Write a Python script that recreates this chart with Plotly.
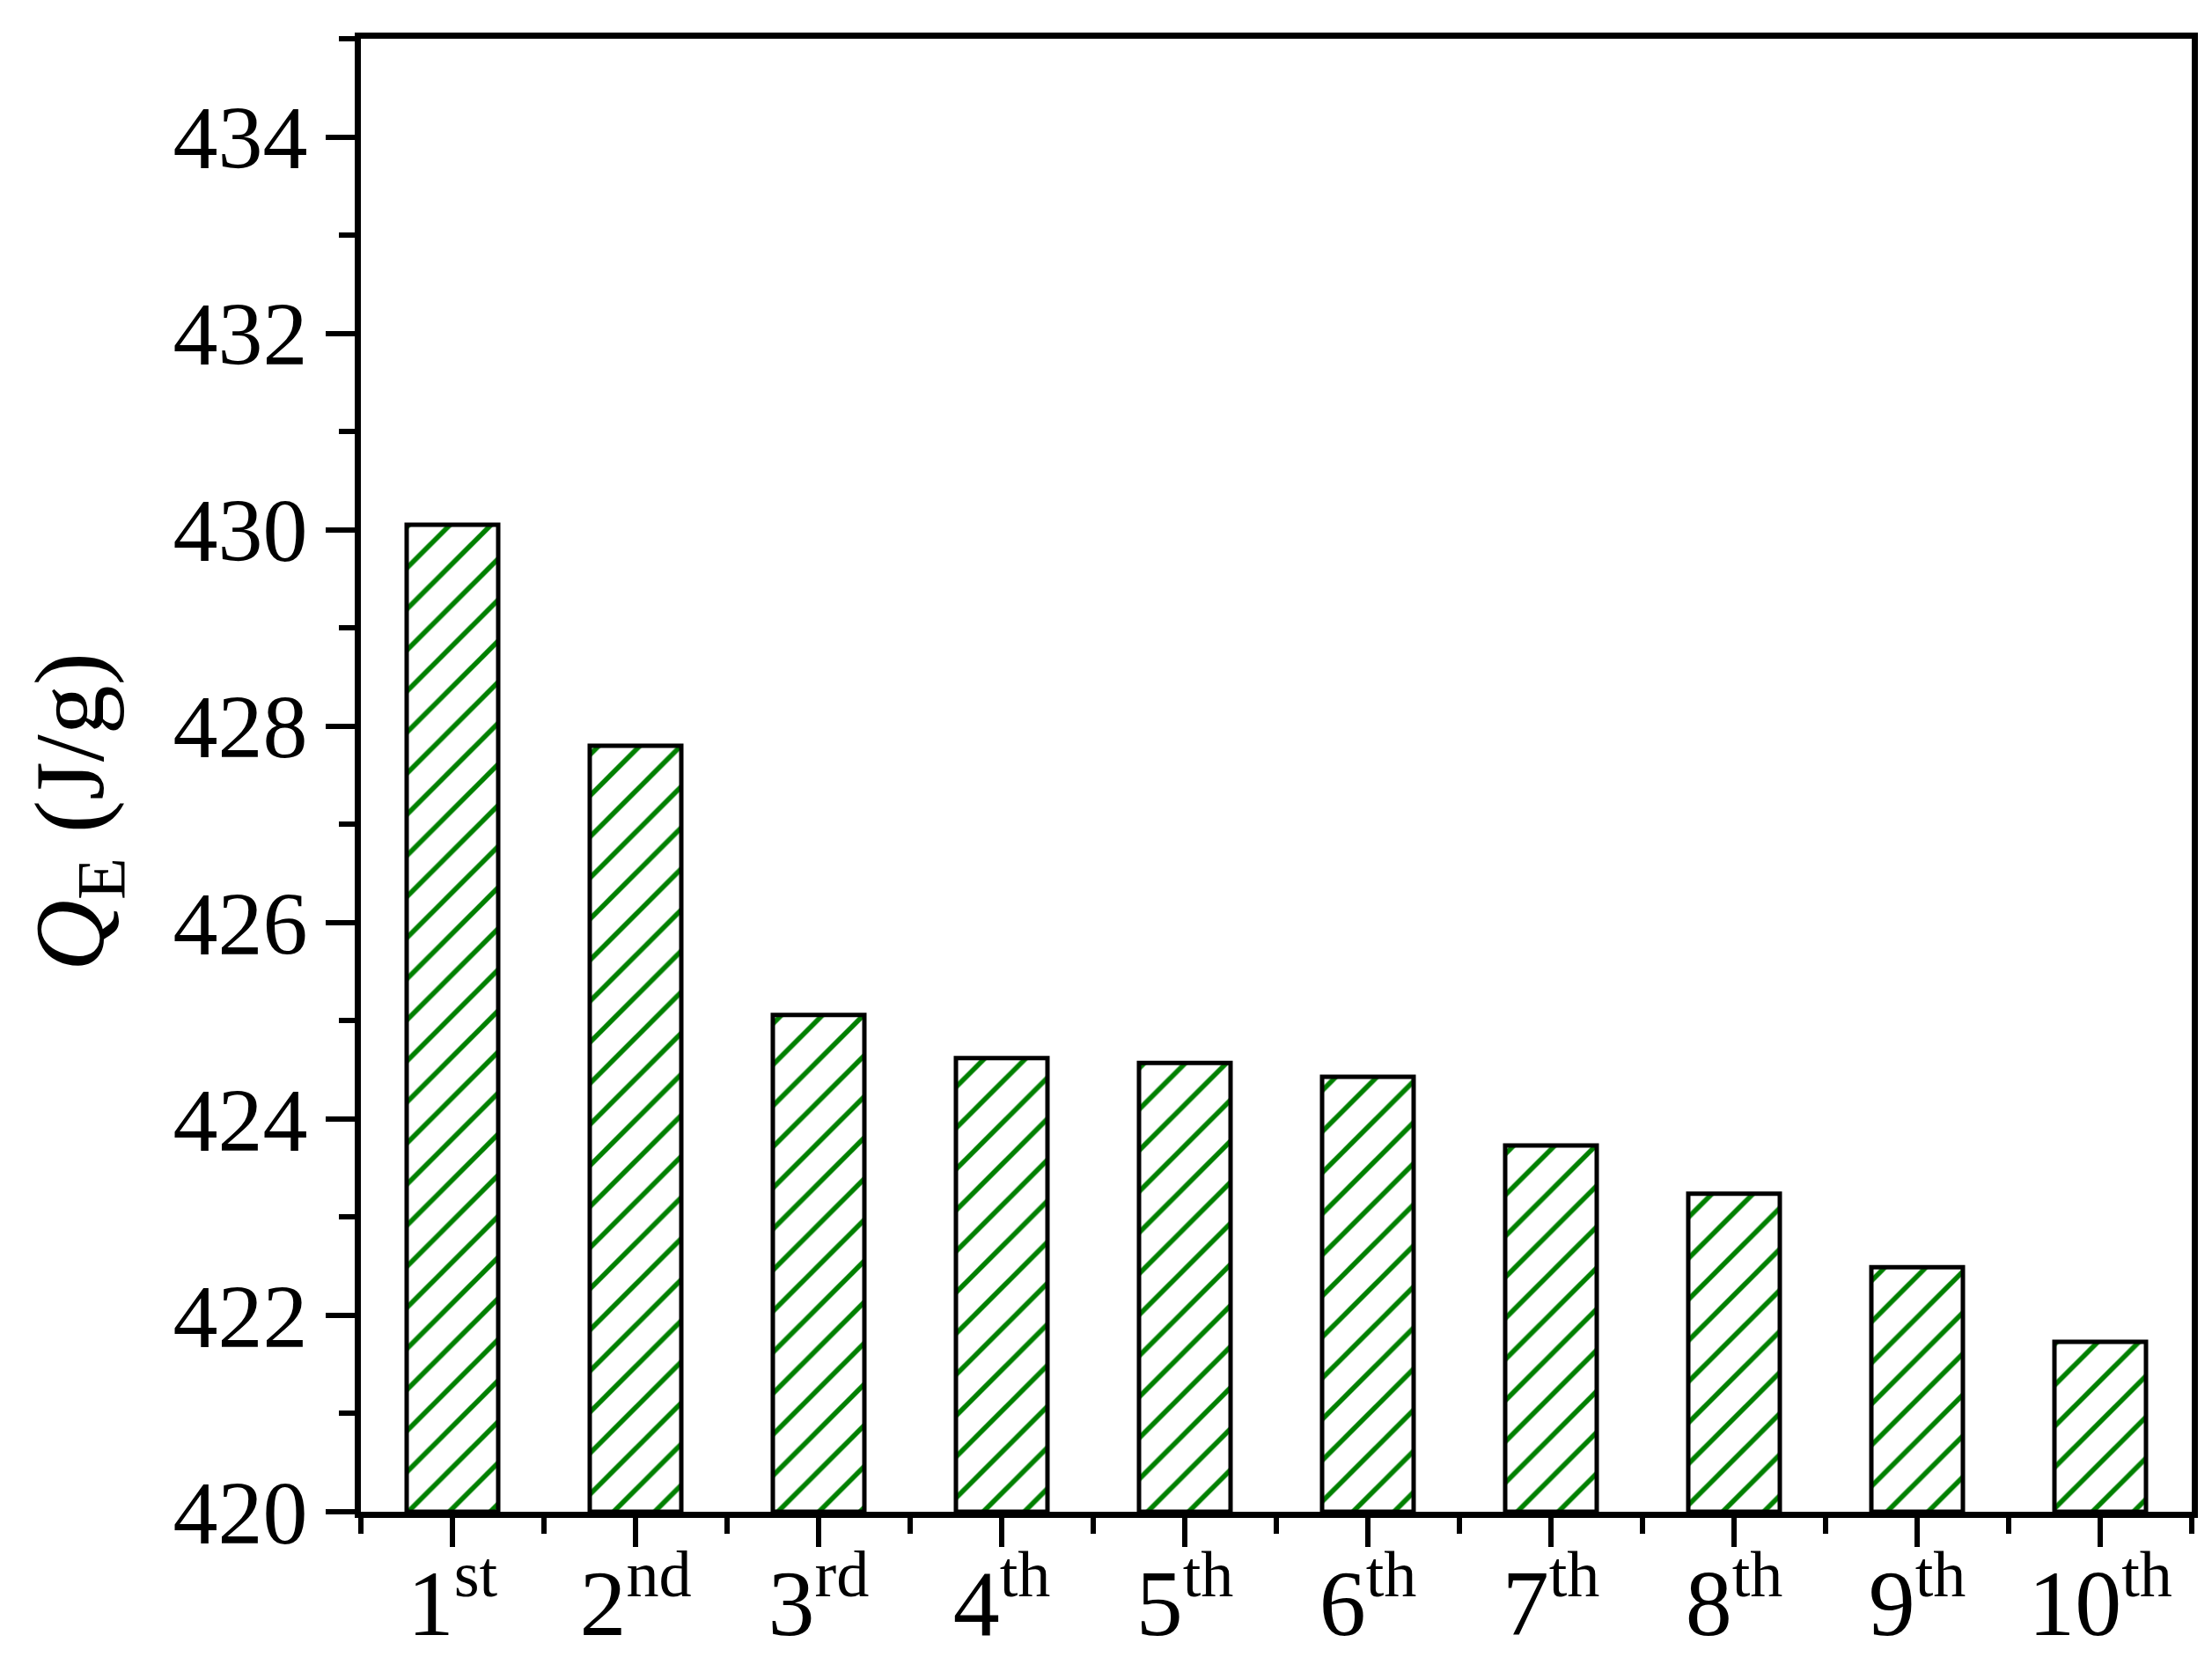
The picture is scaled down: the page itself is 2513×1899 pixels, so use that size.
import plotly.graph_objects as go

# Data
categories = ["1st", "2nd", "3rd", "4th", "5th", "6th", "7th", "8th", "9th", "10th"]
tick_labels = ["1<sup>st</sup>", "2<sup>nd</sup>", "3<sup>rd</sup>", "4<sup>th</sup>", "5<sup>th</sup>",
               "6<sup>th</sup>", "7<sup>th</sup>", "8<sup>th</sup>", "9<sup>th</sup>", "10<sup>th</sup>"]
qe_values = [430.05, 427.80, 425.06, 424.62, 424.57, 424.43, 423.73, 423.24, 422.49, 421.73]
y_ticks = [420, 422, 424, 426, 428, 430, 432, 434]

positions = list(range(len(categories)))
FONT = "Liberation Serif, Times New Roman, serif"

fig = go.Figure()
fig.add_trace(go.Bar(
    x=positions,
    y=[v - 420 for v in qe_values],
    base=420,
    width=0.5,
    customdata=categories,
    marker=dict(
        color="white",
        line=dict(color="black", width=5),
        pattern=dict(shape="/", fgcolor="#008000", bgcolor="white", fgopacity=1,
                     size=33, solidity=0.17, fillmode="replace"),
    ),
    showlegend=False,
))

fig.update_layout(
    width=2513, height=1899,
    margin=dict(l=402, r=31, t=36, b=190),
    paper_bgcolor="white", plot_bgcolor="white",
    font=dict(family=FONT, color="black"),
    xaxis=dict(
        range=[-0.5, 9.5], automargin=False,
        tickmode="array", tickvals=positions, ticktext=tick_labels,
        ticks="outside", ticklen=33, tickwidth=6, tickcolor="black",
        showline=True, linecolor="black", linewidth=7, mirror=True,
        showgrid=False, zeroline=False,
        tickfont=dict(family=FONT, size=106, color="black"),
        ticklabelstandoff=-27,
        minor=dict(ticks="outside", ticklen=18, tickwidth=6, tickcolor="black", dtick=1, tick0=0.5, showgrid=False),
    ),
    yaxis=dict(
        range=[420, 435], automargin=False,
        tickmode="array", tickvals=y_ticks, ticktext=[str(t) for t in y_ticks],
        ticks="outside", ticklen=33, tickwidth=6, tickcolor="black",
        showline=True, linecolor="black", linewidth=7, mirror=True,
        showgrid=False, zeroline=False,
        tickfont=dict(family=FONT, size=102, color="black"),
        ticklabelstandoff=0,
        minor=dict(ticks="outside", ticklen=18, tickwidth=6, tickcolor="black", dtick=1, tick0=420, showgrid=False),
    ),
    annotations=[dict(
        text="<i>Q</i><sub>E</sub> (J/g)",
        xref="paper", yref="paper",
        x=-0.155, y=0.475, xanchor="center", yanchor="middle",
        textangle=-90, showarrow=False,
        font=dict(family=FONT, size=112, color="black"),
    )],
)

fig.write_html("out.html")
